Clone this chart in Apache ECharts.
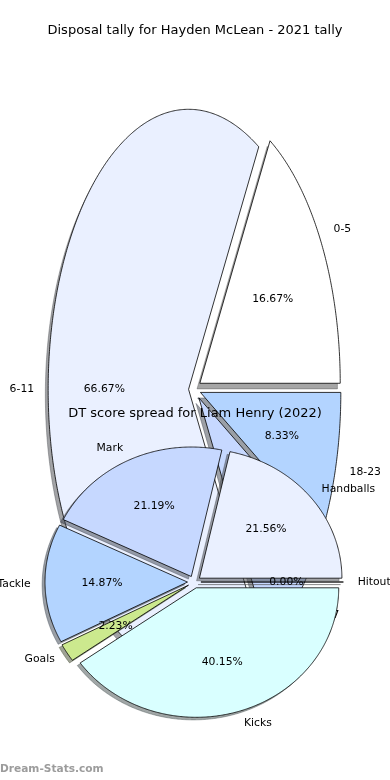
<!DOCTYPE html>
<html><head><meta charset="utf-8">
<script src="https://cdn.jsdelivr.net/npm/echarts@6/dist/echarts.min.js"></script>
<style>html,body{margin:0;padding:0;background:#fff}#c{width:390px;height:780px}</style>
</head><body><div id="c"></div>
<script>
// ---- data ----
const pie1Title = 'Disposal tally for Hayden McLean - 2021 tally';
const pie1Labels = ['0-5', '6-11', '12-17', '18-23'];
const pie1Values = [2, 8, 1, 1];
const pie2Title = 'DT score spread for Liam Henry (2022)';
const pie2Labels = ['Hitout', 'Handballs', 'Mark', 'Tackle', 'Goals', 'Kicks'];
const pie2Values = [0, 21.56, 21.19, 14.87, 2.23, 40.15];
const palette = ['#ffffff', '#eaf0ff', '#c6d8ff', '#b3d4ff', '#cce98e', '#d9ffff'];

// ---- layout ----
const W = 390, H = 780;
const FONT = '"DejaVu Sans", sans-serif';
const geo = [
  { cx: 194.6, cy: 389.3, rx: 140.4, ry: 280, explode: 0.043 },
  { cx: 194.2, cy: 582, rx: 142.5, ry: 129.5, explode: 0.047 }
];
const SHADOW = [-0.02, -0.02];

function sliceInfo(values, i, explode) {
  const total = values.reduce((a, b) => a + b, 0);
  let before = 0;
  for (let k = 0; k < i; k++) before += values[k];
  const t1 = before / total * 2 * Math.PI;
  const t2 = (before + values[i]) / total * 2 * Math.PI;
  const tm = (t1 + t2) / 2;
  return { t1, t2, tm, ox: explode * Math.cos(tm), oy: explode * Math.sin(tm),
           pct: (values[i] / total * 100).toFixed(2) + '%' };
}
function wedgePoints(api, s, dx, dy) {
  const pts = [api.coord([s.ox + dx, s.oy + dy])];
  const n = Math.max(1, Math.ceil((s.t2 - s.t1) / (Math.PI / 360)));
  for (let k = 0; k <= n; k++) {
    const t = s.t1 + (s.t2 - s.t1) * k / n;
    pts.push(api.coord([s.ox + dx + Math.cos(t), s.oy + dy + Math.sin(t)]));
  }
  return pts;
}
function shadowColor(hex) {
  const r = parseInt(hex.slice(1, 3), 16), g = parseInt(hex.slice(3, 5), 16), b = parseInt(hex.slice(5, 7), 16);
  return 'rgba(' + Math.round(r * 0.3) + ',' + Math.round(g * 0.3) + ',' + Math.round(b * 0.3) + ',0.5)';
}

function makeSeries(values, labels, gi, kind, z) {
  const g = geo[gi];
  return {
    type: 'custom', coordinateSystem: 'cartesian2d', xAxisIndex: gi, yAxisIndex: gi,
    z: z, silent: true, clip: false, animation: false,
    data: values.map((v, i) => ({ value: [i, v], name: labels[i] })),
    renderItem: function (params, api) {
      const i = params.dataIndex;
      const s = sliceInfo(values, i, g.explode);
      const col = palette[i % palette.length];
      if (kind === 'shadow') {
        const sc = shadowColor(col);
        return { type: 'polygon', shape: { points: wedgePoints(api, s, SHADOW[0], SHADOW[1]) },
                 style: { fill: sc, stroke: sc, lineWidth: 0.8 } };
      }
      if (kind === 'wedge') {
        return { type: 'polygon', shape: { points: wedgePoints(api, s, 0, 0) },
                 style: { fill: col, stroke: '#000', lineWidth: 0.8, lineJoin: 'miter' } };
      }
      const xt = s.ox + 1.1 * Math.cos(s.tm), yt = s.oy + 1.1 * Math.sin(s.tm);
      const pl = api.coord([xt, yt]);
      const pp = api.coord([s.ox + 0.6 * Math.cos(s.tm), s.oy + 0.6 * Math.sin(s.tm)]);
      return { type: 'group', children: [
        { type: 'text', x: pl[0], y: pl[1], style: { text: labels[i], fill: '#000', fontSize: 10.8, fontFamily: FONT,
          align: xt > 0 ? 'left' : 'right', verticalAlign: 'middle' } },
        { type: 'text', x: pp[0], y: pp[1], style: { text: s.pct, fill: '#000', fontSize: 10.8, fontFamily: FONT,
          align: 'center', verticalAlign: 'middle' } }
      ] };
    }
  };
}

const xAxes = geo.map(g => ({ type: 'value', gridIndex: 0, show: false, min: -g.cx / g.rx, max: (W - g.cx) / g.rx }));
const yAxes = geo.map(g => ({ type: 'value', gridIndex: 0, show: false, min: -(H - g.cy) / g.ry, max: g.cy / g.ry }));

const chart = echarts.init(document.getElementById('c'), null, { renderer: 'canvas' });
chart.setOption({
  backgroundColor: '#ffffff',
  animation: false,
  title: [
    { text: pie1Title, left: 'center', top: 24, padding: 0, z: 20,
      textStyle: { fontSize: 13, fontWeight: 'normal', color: '#000', fontFamily: FONT } },
    { text: pie2Title, left: 'center', top: 407, padding: 0, z: 20,
      textStyle: { fontSize: 13, fontWeight: 'normal', color: '#000', fontFamily: FONT } }
  ],
  grid: [{ left: 0, right: 0, top: 0, bottom: 0, containLabel: false }],
  xAxis: xAxes,
  yAxis: yAxes,
  series: [
    makeSeries(pie1Values, pie1Labels, 0, 'shadow', 1),
    makeSeries(pie1Values, pie1Labels, 0, 'wedge', 2),
    makeSeries(pie1Values, pie1Labels, 0, 'label', 3),
    makeSeries(pie2Values, pie2Labels, 1, 'shadow', 4),
    makeSeries(pie2Values, pie2Labels, 1, 'wedge', 5),
    makeSeries(pie2Values, pie2Labels, 1, 'label', 6)
  ],
  graphic: [
    { type: 'text', left: 0, top: 764, z: 30,
      style: { text: 'Dream-Stats.com', fill: '#9c9c9c', fontSize: 10.6, fontWeight: 'bold', fontFamily: FONT } }
  ]
});
</script></body></html>
